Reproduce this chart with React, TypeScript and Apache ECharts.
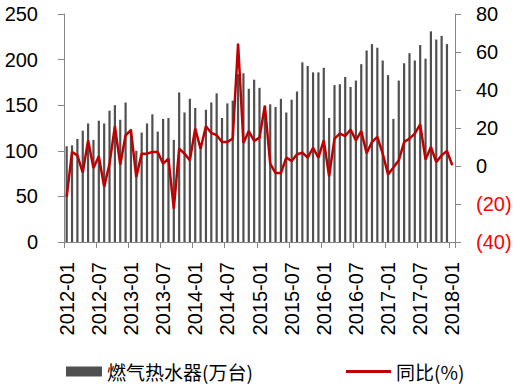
import React, { useEffect, useRef } from "react";
import * as echarts from "echarts";

const months: string[] = [
  "2012-01", "2012-02", "2012-03", "2012-04", "2012-05", "2012-06", "2012-07", "2012-08", "2012-09", "2012-10", "2012-11", "2012-12",
  "2013-01", "2013-02", "2013-03", "2013-04", "2013-05", "2013-06", "2013-07", "2013-08", "2013-09", "2013-10", "2013-11", "2013-12",
  "2014-01", "2014-02", "2014-03", "2014-04", "2014-05", "2014-06", "2014-07", "2014-08", "2014-09", "2014-10", "2014-11", "2014-12",
  "2015-01", "2015-02", "2015-03", "2015-04", "2015-05", "2015-06", "2015-07", "2015-08", "2015-09", "2015-10", "2015-11", "2015-12",
  "2016-01", "2016-02", "2016-03", "2016-04", "2016-05", "2016-06", "2016-07", "2016-08", "2016-09", "2016-10", "2016-11", "2016-12",
  "2017-01", "2017-02", "2017-03", "2017-04", "2017-05", "2017-06", "2017-07", "2017-08", "2017-09", "2017-10", "2017-11", "2017-12",
  "2018-01",
];

// 燃气热水器 (万台)
const output: (number | null)[] = [
  105, 106, 113, 122, 130, 112, 133, 130, 144, 150, 134, 153,
  124, 100, 120, 130, 140, 121, 135, 136, 112, 164, 142, 157,
  147, 108, 145, 153, 163, 136, 152, 155, 184, 185, 168, 178,
  169, 143, 151, 148, 157, 142, 156, 165, 197, 193, 186, 186,
  191, 136, 172, 173, 181, 170, 177, 195, 210, 217, 213, 199,
  183, 135, 177, 196, 207, 199, 216, 201, 231, 222, 226, 217,
  null,
];

// 同比 (%)
const yoy: number[] = [
  -16.3, 7.4, 5.6, -3.5, 13.5, -1.0, 5.1, -11.0, 1.2, 20.9, 0.7, 16.2,
  18.8, -5.8, 6.5, 6.5, 7.4, 7.4, 1.2, 3.9, -22.4, 9.1, 6.5, 3.0,
  19.7, 9.1, 20.9, 17.4, 16.2, 12.6, 12.6, 14.4, 64.4, 12.1, 18.4, 13.2,
  14.9, 31.8, 1.2, -3.7, -3.7, 4.4, 2.6, 6.2, 7.0, 4.4, 9.5, 4.4,
  13.5, -5.4, 14.4, 17.0, 15.8, 19.2, 13.5, 18.4, 6.8, 12.6, 15.3, 6.5,
  -4.4, -0.8, 3.0, 12.6, 14.4, 17.0, 21.9, 3.4, 10.0, 2.1, 5.6, 7.9,
  0.4,
];

const barName = "燃气热水器(万台)";
const lineName = "同比(%)";

const FONT = "'Liberation Sans', Arial, sans-serif";
const CJK = "'Noto Sans CJK SC', sans-serif";
const AXIS_GRAY = "#868686";

export default function App() {
  const ref = useRef<HTMLDivElement>(null);

  useEffect(() => {
    if (!ref.current) return;
    const chart = echarts.init(ref.current, undefined, { renderer: "svg" });
    chart.setOption({
      animation: false,
      grid: { left: 64, right: 65, top: 14, height: 228, containLabel: false },
      legend: [
        {
          data: [{ name: barName, icon: "rect" }],
          left: 61,
          top: 357,
          itemWidth: 36,
          itemHeight: 10,
          textStyle: { fontFamily: CJK, fontSize: 19, color: "#000" },
        },
        {
          data: [{ name: lineName, icon: "rect" }],
          left: 341,
          top: 357,
          itemWidth: 45,
          itemHeight: 3,
          textStyle: { fontFamily: CJK, fontSize: 19, color: "#000" },
        },
      ],
      xAxis: {
        type: "category",
        data: months,
        boundaryGap: true,
        axisLine: { lineStyle: { color: AXIS_GRAY, width: 1 } },
        axisTick: { show: true, interval: 5, length: 6, lineStyle: { color: AXIS_GRAY } },
        axisLabel: {
          interval: 5,
          rotate: 90,
          margin: 20,
          fontFamily: FONT,
          fontSize: 20,
          color: "#000",
        },
        splitLine: { show: false },
      },
      yAxis: [
        {
          type: "value",
          min: 0,
          max: 250,
          interval: 50,
          axisLine: { show: true, lineStyle: { color: AXIS_GRAY } },
          axisTick: { show: true, length: 6, lineStyle: { color: AXIS_GRAY } },
          axisLabel: { margin: 26, fontFamily: FONT, fontSize: 20, color: "#000" },
          splitLine: { show: false },
        },
        {
          type: "value",
          min: -40,
          max: 80,
          interval: 20,
          position: "right",
          axisLine: { show: true, lineStyle: { color: AXIS_GRAY } },
          axisTick: { show: true, length: 6, lineStyle: { color: AXIS_GRAY } },
          axisLabel: {
            margin: 21,
            fontFamily: FONT,
            fontSize: 20,
            color: "#000",
            formatter: (v: number) => (v < 0 ? `{neg|(${-v})}` : `${v}`),
            rich: {
              neg: { color: "#FF0000", fontFamily: FONT, fontSize: 20 },
            },
          },
          splitLine: { show: false },
        },
      ],
      series: [
        {
          name: barName,
          type: "bar",
          data: output,
          barWidth: 2.2,
          itemStyle: { color: "#505050" },
          yAxisIndex: 0,
        },
        {
          name: lineName,
          type: "line",
          data: yoy,
          yAxisIndex: 1,
          symbol: "none",
          showSymbol: false,
          lineStyle: { color: "#C00000", width: 2.5 },
          itemStyle: { color: "#C00000" },
          z: 3,
        },
      ],
    });
    return () => chart.dispose();
  }, []);

  return (
    <div
      ref={ref}
      style={{ position: "fixed", left: 0, top: 0, width: 520, height: 386, background: "#fff" }}
    />
  );
}
